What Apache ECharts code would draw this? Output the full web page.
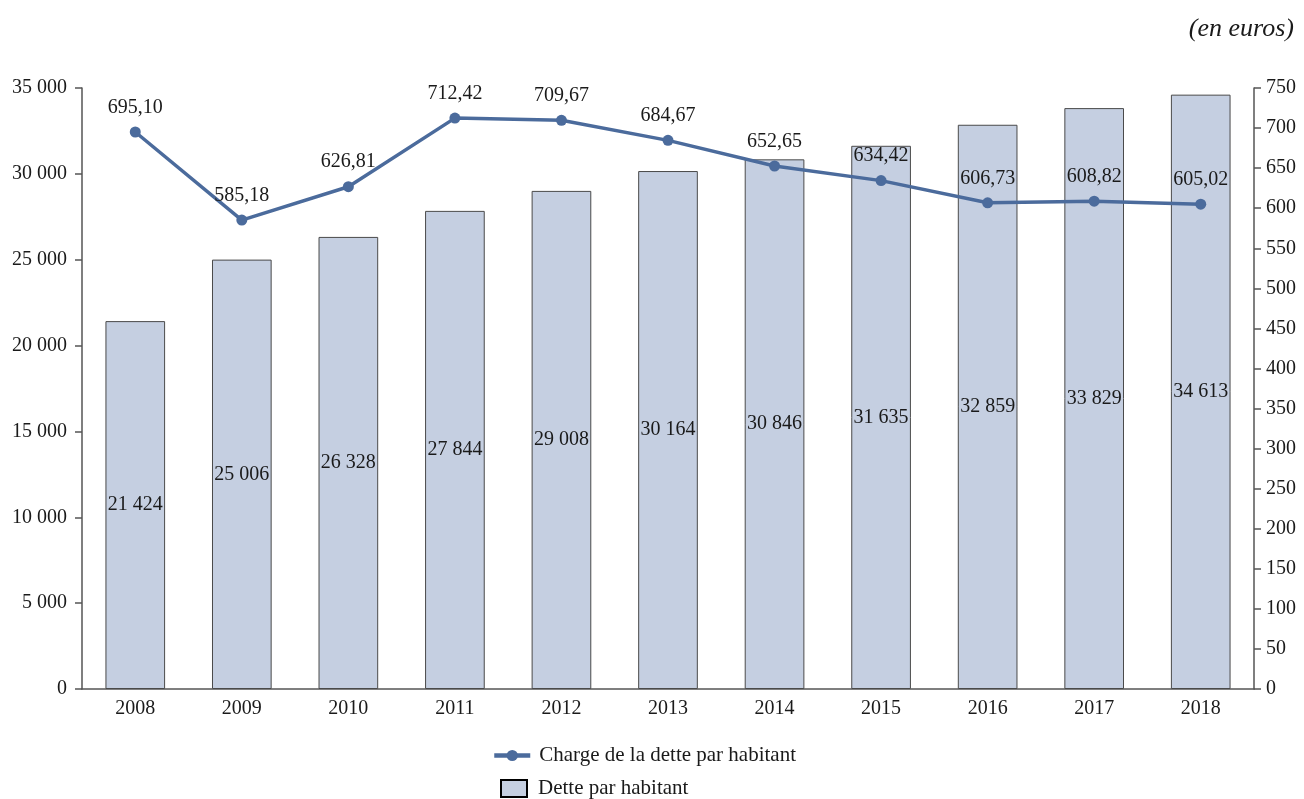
<!DOCTYPE html>
<html>
<head>
<meta charset="utf-8">
<script src="https://cdn.jsdelivr.net/npm/echarts@6/dist/echarts.min.js"></script>
<style>
  html, body { margin: 0; padding: 0; background: #fff; }
  #chart { width: 1304px; height: 799px; }
</style>
</head>
<body>
<div id="chart"></div>
<script>
// Years on the category axis
const years = ['2008', '2009', '2010', '2011', '2012', '2013', '2014', '2015', '2016', '2017', '2018'];
// Debt per inhabitant (euros), bars on the left axis
const dette = [21424, 25006, 26328, 27844, 29008, 30164, 30846, 31635, 32859, 33829, 34613];
// Debt charge per inhabitant (euros), line on the right axis
const charge = [695.10, 585.18, 626.81, 712.42, 709.67, 684.67, 652.65, 634.42, 606.73, 608.82, 605.02];

const FONT = '"Liberation Serif", "DejaVu Serif", serif';
const TXT = '#1a1a1a';
const SIZE = 20;
const LINE_COLOR = '#4b6b9c';

function fmtInt(v) {
  return String(Math.round(v)).replace(/\B(?=(\d{3})+(?!\d))/g, ' ');
}
function fmtDec(v) {
  return v.toFixed(2).replace('.', ',');
}

const chart = echarts.init(document.getElementById('chart'));
chart.setOption({
  animation: false,
  textStyle: { fontFamily: FONT, color: TXT },
  title: {
    text: '(en euros)',
    right: 5,
    top: 11,
    textStyle: { fontFamily: FONT, fontStyle: 'italic', fontWeight: 'normal', fontSize: 26, color: TXT }
  },
  grid: { left: 82, right: 50, top: 88, bottom: 110 },
  // two stacked legends, one entry each
  legend: [
    {
      left: 492,
      top: 745,
      padding: 0,
      itemWidth: 36,
      itemHeight: 14,
      textStyle: { fontFamily: FONT, fontSize: 21, color: TXT, padding: [0, 0, 0, 4] },
      data: [{ name: 'Charge de la dette par habitant', lineStyle: { width: 4.5 } }]
    },
    {
      left: 500,
      top: 778,
      padding: 0,
      itemWidth: 26,
      itemHeight: 17,
      textStyle: { fontFamily: FONT, fontSize: 21, color: TXT, padding: [0, 0, 0, 6] },
      data: [{ name: 'Dette par habitant', icon: 'rect', itemStyle: { borderColor: '#000', borderWidth: 2 } }]
    }
  ],
  xAxis: {
    type: 'category',
    data: years,
    axisLine: { show: true, lineStyle: { color: '#555', width: 1.5 } },
    axisTick: { show: false },
    axisLabel: { fontFamily: FONT, fontSize: SIZE, color: TXT, margin: 10 }
  },
  yAxis: [
    {
      type: 'value',
      min: 0, max: 35000, interval: 5000,
      position: 'left',
      splitLine: { show: false },
      axisLine: { show: true, lineStyle: { color: '#555', width: 1.5 } },
      axisTick: { show: true, length: 7, lineStyle: { color: '#555', width: 1.5 } },
      axisLabel: { fontFamily: FONT, fontSize: SIZE, color: TXT, margin: 15, formatter: fmtInt }
    },
    {
      type: 'value',
      min: 0, max: 750, interval: 50,
      position: 'right',
      splitLine: { show: false },
      axisLine: { show: true, lineStyle: { color: '#555', width: 1.5 } },
      axisTick: { show: true, length: 7, lineStyle: { color: '#555', width: 1.5 } },
      axisLabel: { fontFamily: FONT, fontSize: SIZE, color: TXT, margin: 12 }
    }
  ],
  series: [
    {
      name: 'Dette par habitant',
      type: 'bar',
      yAxisIndex: 0,
      data: dette,
      barWidth: '56%',
      itemStyle: { color: '#c5cfe1', borderColor: '#4a4a4a', borderWidth: 1 },
      label: {
        show: true,
        position: 'inside',
        fontFamily: FONT, fontSize: SIZE, color: TXT,
        formatter: p => fmtInt(p.value)
      },
      z: 1
    },
    {
      name: 'Charge de la dette par habitant',
      type: 'line',
      yAxisIndex: 1,
      data: charge,
      symbol: 'circle',
      symbolSize: 11,
      lineStyle: { color: LINE_COLOR, width: 3.5 },
      itemStyle: { color: LINE_COLOR },
      label: {
        show: true,
        position: 'top',
        distance: 9,
        fontFamily: FONT, fontSize: SIZE, color: TXT,
        formatter: p => fmtDec(p.value)
      },
      z: 3
    }
  ]
});
</script>
</body>
</html>
